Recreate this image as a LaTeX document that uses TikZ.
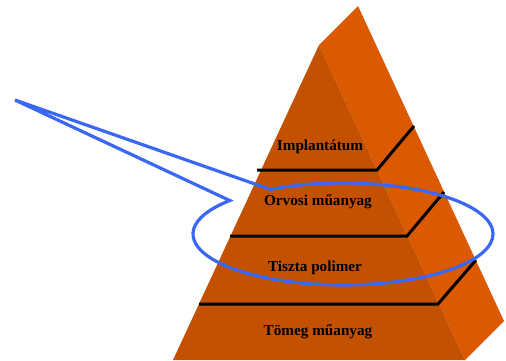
\documentclass[tikz,border=0pt]{standalone}
\usepackage{fontspec}
\setmainfont{Liberation Serif}
\usetikzlibrary{calc}
\begin{document}
\begin{tikzpicture}[x=1pt,y=-1pt,
  front/.style={fill={rgb,255:red,196;green,81;blue,0}},
  side/.style={fill={rgb,255:red,219;green,89;blue,0}},
  level/.style={draw=black,line width=3pt},
  lbl/.style={font=\bfseries\fontsize{15.2}{17}\selectfont,text=black,inner sep=0pt},
  callout/.style={draw={rgb,255:red,58;green,104;blue,245},line width=3.2pt,line join=miter}]
\useasboundingbox (0,0) rectangle (506,360);
% faces
\fill[side] (319,45) -- (358,6) -- (504,321) -- (465,360) -- cycle;
\fill[front] (319,45) -- (173,360) -- (465,360) -- cycle;
% level lines
\draw[level] (257,170) -- (377,170) -- (414,126);
\draw[level] (230,236) -- (407,236) -- (444,192);
\draw[level] (199,304) -- (438,304) -- (476,260);
% labels
\node[lbl] (l1) at (320,147) {Implantátum};
\node[lbl] (l2) at (318,202) {Orvosi műanyag};
\node[lbl] (l3) at (315,268) {Tiszta polimer};
\node[lbl] (l4) at (318,332) {Tömeg műanyag};
% callout
\coordinate (C) at (343,234);
\coordinate (tip) at (15,100);
\draw[callout] (tip) -- ($(C)+(-119:150 and 51)$)
  arc[start angle=-119,end angle=221,x radius=150,y radius=51] -- cycle;
\end{tikzpicture}
\end{document}
